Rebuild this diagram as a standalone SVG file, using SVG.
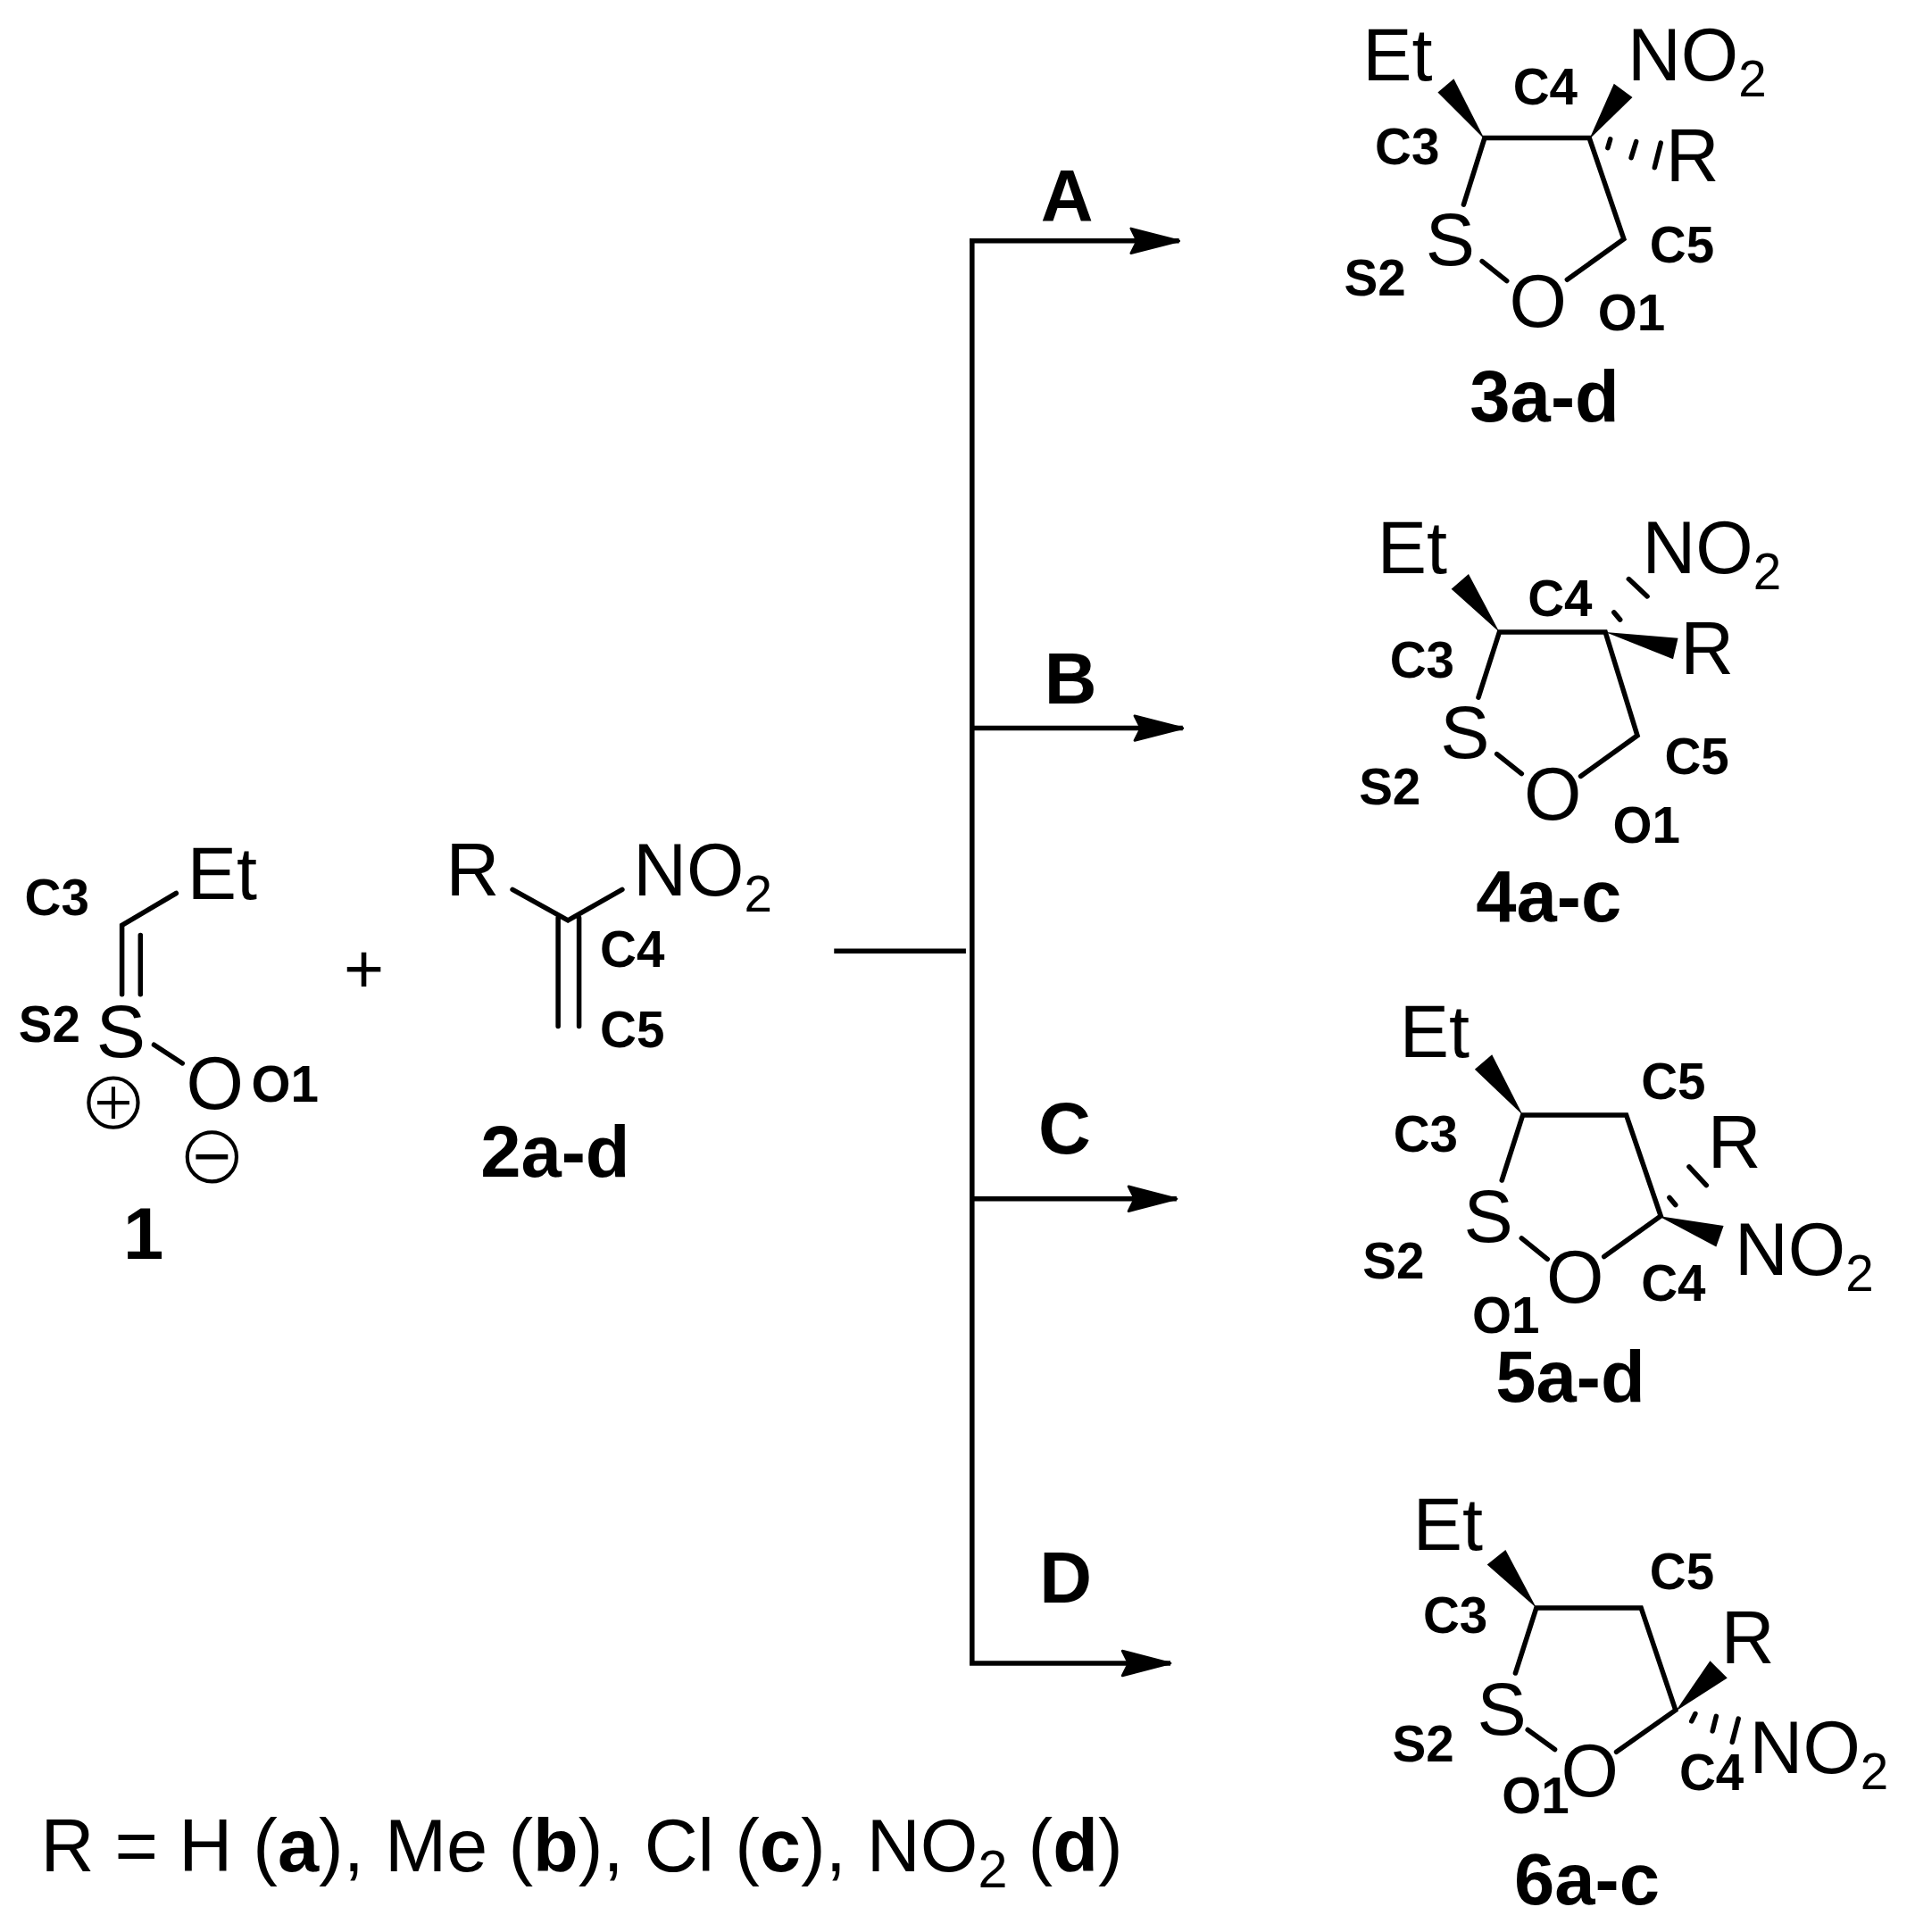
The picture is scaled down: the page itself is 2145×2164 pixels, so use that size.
<svg xmlns="http://www.w3.org/2000/svg" width="2145" height="2164" viewBox="0 0 2145 2164">
<style>
text{font-family:"Liberation Sans",Arial,sans-serif;fill:#000}
.a{font-size:60px}
.s{font-size:41px}
.l{font-size:41px;font-weight:bold}
.n{font-size:59px;font-weight:bold}
.b{fill:none;stroke:#000;stroke-width:4;stroke-linecap:round;stroke-linejoin:miter}
.h{fill:none;stroke:#000;stroke-width:4;stroke-linecap:round}
.w{fill:#000;stroke:none}
.c{fill:none;stroke:#000;stroke-width:3}
.f{fill:none;stroke:#000;stroke-width:4}
</style>
<defs>
<marker id="ah" markerUnits="userSpaceOnUse" markerWidth="44" markerHeight="28" refX="42" refY="14" orient="auto">
<path d="M3 4L42 14L3 24L8 14Z" fill="#000" stroke="#000" stroke-width="2" stroke-linejoin="round"/>
</marker>
</defs>
<rect width="2145" height="2164" fill="#fff"/>
<g transform="scale(1.38)">
<g id="connectors">
<path class="f" d="M677 772H784"/>
<path class="f" d="M789 1351V193.500"/>
<path class="f" d="M787 195.500H957" marker-end="url(#ah)"/>
<path class="f" d="M789 591H960" marker-end="url(#ah)"/>
<path class="f" d="M789 973H955" marker-end="url(#ah)"/>
<path class="f" d="M787 1350H950" marker-end="url(#ah)"/>
</g>
<g id="label-A"><text class="n" x="866" y="179" text-anchor="middle">A</text></g>
<g id="label-B"><text class="n" x="869" y="571" text-anchor="middle">B</text></g>
<g id="label-C"><text class="n" x="864" y="936" text-anchor="middle">C</text></g>
<g id="label-D"><text class="n" x="865" y="1301" text-anchor="middle">D</text></g>

<g id="compound-1">
<path class="b" d="M143 725L99 751V807M114 759V807M125 848L148 863"/>
<text class="a" x="152" y="730">Et</text>
<text class="a" x="78" y="858">S</text>
<text class="a" x="151" y="900">O</text>
<text class="l" x="20" y="743">C3</text>
<text class="l" x="15" y="846">S2</text>
<text class="l" x="204" y="894">O1</text>
<circle class="c" cx="92" cy="895" r="20"/><path class="c" d="M79 895H105M92 882V908"/>
<circle class="c" cx="172" cy="939" r="20"/><path class="c" d="M159 939H185" style="stroke-width:4"/>
<text class="n" x="100" y="1022">1</text>
</g>
<g id="plus"><text x="279" y="806" style="font-size:56px">+</text></g>
<g id="compound-2">
<path class="b" d="M416 722L461 747L505 722M453 745V833M470 745V833"/>
<text class="a" x="362" y="727">R</text>
<text class="a" x="514" y="727">NO<tspan class="s" dy="13">2</tspan></text>
<text class="l" x="487" y="785">C4</text>
<text class="l" x="487" y="850">C5</text>
<text class="n" x="390" y="955">2a-d</text>
</g>

<g id="compound-3">
<path class="b" d="M1188 166L1205 112H1290L1318 194L1272 227M1203 212L1223 228"/>
<polygon class="w" points="1205,113 1167,75 1180,64"/>
<polygon class="w" points="1290,113 1310,68 1325,79"/>
<path class="h" d="M1307 113L1305 120M1328 115L1324 128M1348 116L1343 136"/>
<text class="a" x="1106" y="65">Et</text>
<text class="a" x="1321" y="65">NO<tspan class="s" dy="13">2</tspan></text>
<text class="a" x="1352" y="147">R</text>
<text class="a" x="1157" y="215">S</text>
<text class="a" x="1225" y="265">O</text>
<text class="l" x="1116" y="133">C3</text>
<text class="l" x="1228" y="85">C4</text>
<text class="l" x="1339" y="213">C5</text>
<text class="l" x="1091" y="240">S2</text>
<text class="l" x="1297" y="268">O1</text>
<text class="n" x="1193" y="342">3a-d</text>
</g>

<g id="compound-4">
<path class="b" d="M1200 566L1217 513H1303L1329 597L1283 630M1215 612L1235 628"/>
<polygon class="w" points="1217,513 1178,478 1192,466"/>
<polygon class="w" points="1303,513 1362,518 1358,535"/>
<path class="h" d="M1310 497L1315 503M1322 470L1337 484"/>
<text class="a" x="1118" y="465">Et</text>
<text class="a" x="1333" y="465">NO<tspan class="s" dy="13">2</tspan></text>
<text class="a" x="1364" y="547">R</text>
<text class="a" x="1169" y="615">S</text>
<text class="a" x="1237" y="665">O</text>
<text class="l" x="1128" y="550">C3</text>
<text class="l" x="1240" y="500">C4</text>
<text class="l" x="1351" y="628">C5</text>
<text class="l" x="1103" y="653">S2</text>
<text class="l" x="1309" y="684">O1</text>
<text class="n" x="1198" y="748">4a-c</text>
</g>

<g id="compound-5">
<path class="b" d="M1219 958L1236 905H1320L1348 987L1302 1020M1235 1005L1256 1022"/>
<polygon class="w" points="1236,905 1197,868 1211,856"/>
<polygon class="w" points="1346,987 1399,995 1393,1012"/>
<path class="h" d="M1355 972L1360 978M1371 947L1385 962"/>
<text class="a" x="1136" y="858">Et</text>
<text class="a" x="1408" y="1035">NO<tspan class="s" dy="13">2</tspan></text>
<text class="a" x="1386" y="948">R</text>
<text class="a" x="1188" y="1008">S</text>
<text class="a" x="1255" y="1057">O</text>
<text class="l" x="1131" y="935">C3</text>
<text class="l" x="1332" y="892">C5</text>
<text class="l" x="1332" y="1056">C4</text>
<text class="l" x="1106" y="1038">S2</text>
<text class="l" x="1195" y="1082">O1</text>
<text class="n" x="1214" y="1138">5a-d</text>
</g>

<g id="compound-6">
<path class="b" d="M1230 1358L1247 1305H1332L1360 1388L1312 1422M1240 1404L1262 1420"/>
<polygon class="w" points="1247,1305 1207,1270 1222,1258"/>
<polygon class="w" points="1360,1389 1388,1348 1402,1362"/>
<path class="h" d="M1376 1391L1373 1397M1393 1393L1390 1405M1411 1395L1406 1414"/>
<text class="a" x="1147" y="1258">Et</text>
<text class="a" x="1420" y="1439">NO<tspan class="s" dy="13">2</tspan></text>
<text class="a" x="1397" y="1350">R</text>
<text class="a" x="1199" y="1408">S</text>
<text class="a" x="1267" y="1458">O</text>
<text class="l" x="1155" y="1325">C3</text>
<text class="l" x="1339" y="1290">C5</text>
<text class="l" x="1363" y="1453">C4</text>
<text class="l" x="1130" y="1430">S2</text>
<text class="l" x="1219" y="1472">O1</text>
<text class="n" x="1229" y="1546">6a-c</text>
</g>

<g id="footnote"><text x="33" y="1519" style="font-size:60.200px">R = H (<tspan font-weight="bold">a</tspan>), Me (<tspan font-weight="bold">b</tspan>), Cl (<tspan font-weight="bold">c</tspan>), NO<tspan class="s" dy="13" style="font-size:43px">2</tspan><tspan dy="-13"> (</tspan><tspan font-weight="bold">d</tspan>)</text></g>
</g>
</svg>
